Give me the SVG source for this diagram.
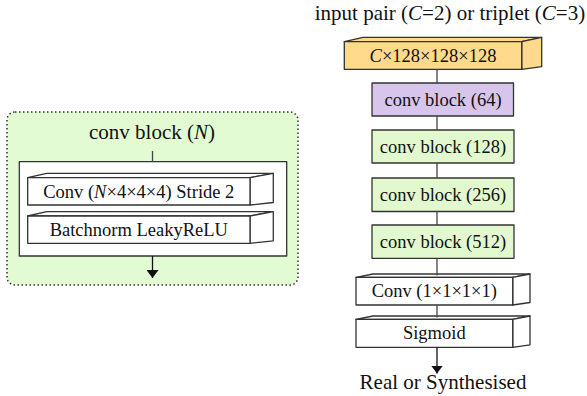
<svg xmlns="http://www.w3.org/2000/svg" width="587" height="396" viewBox="0 0 587 396">
  <defs>
    <style>
      text { font-family: "Liberation Serif", "Times New Roman", serif; fill: #111; text-anchor: middle; }
      .big { font-size: 21px; }
      .lbl { font-size: 18.5px; }
      .box { stroke: #333; stroke-width: 1.3; stroke-linejoin: round; }
      .orange { fill: #ffd98c; }
      .purple { fill: #d7c5eb; }
      .green { fill: #e2f9cf; }
      .white { fill: #ffffff; }
      .edge { stroke: #444; stroke-width: 1.3; fill: none; }
      .arrow { stroke: #111; stroke-width: 1.3; fill: none; }
      .dotted { fill: #e3fbd3; stroke: #333; stroke-width: 1.5; stroke-dasharray: 1.5 2.5; }
    </style>
    <marker id="ah" viewBox="0 0 8 12" refX="8" refY="6" markerWidth="8" markerHeight="12" markerUnits="userSpaceOnUse" orient="auto">
      <path d="M0,0 L8,6 L0,12 Z" fill="#111"/>
    </marker>
  </defs>

  <!-- Left detail: conv block (N) -->
  <g id="conv-block-detail">
    <rect class="dotted" x="7" y="112" width="291" height="173" rx="8"/>
    <text class="big" x="152" y="139">conv block (<tspan font-style="italic">N</tspan>)</text>
    <rect class="box white" x="19.3" y="161.7" width="267.4" height="94.3" stroke="#111" stroke-width="1.5"/>
  </g>
  <g id="conv-N">
    <polygon class="box white" points="27.7,177.7 46.7,173.3 273.3,173.3 250,177.7"/>
    <polygon class="box white" points="250,177.7 273.3,173.3 273.3,202.5 250,205"/>
    <rect class="box white" x="27.7" y="177.7" width="222.3" height="27.3"/>
    <text class="lbl" x="138.8" y="197.5">Conv (<tspan font-style="italic">N</tspan>×4×4×4) Stride 2</text>
  </g>
  <g id="batchnorm">
    <polygon class="box white" points="27.7,216 46.7,211.6 273.3,211.6 250,216"/>
    <polygon class="box white" points="250,216 273.3,211.6 273.3,240.8 250,243.3"/>
    <rect class="box white" x="27.7" y="216" width="222.3" height="27.3"/>
    <text class="lbl" x="138.8" y="235.8">Batchnorm LeakyReLU</text>
  </g>

  <!-- Right pipeline -->
  <g id="input-label">
    <text class="big" x="450" y="19.5">input pair (<tspan font-style="italic">C</tspan>=2) or triplet (<tspan font-style="italic">C</tspan>=3)</text>
  </g>
  <g id="input-volume">
    <polygon class="box orange" points="344.3,41.7 363,37.3 541.7,37.3 521.7,41.7"/>
    <polygon class="box orange" points="521.7,41.7 541.7,37.3 541.7,66.7 521.7,69.3"/>
    <rect class="box orange" x="344.3" y="41.7" width="177.4" height="27.6"/>
    <text class="lbl" x="433" y="61.8"><tspan font-style="italic">C</tspan>×128×128×128</text>
  </g>
  <g id="conv64">
    <rect class="box purple" x="372" y="83" width="141.5" height="33"/>
    <text class="lbl" x="443" y="106">conv block (64)</text>
  </g>
  <g id="conv128">
    <rect class="box green" x="372" y="130" width="142" height="33"/>
    <text class="lbl" x="443" y="152.5">conv block (128)</text>
  </g>
  <g id="conv256">
    <rect class="box green" x="372" y="178" width="142" height="33.5"/>
    <text class="lbl" x="443" y="200.5">conv block (256)</text>
  </g>
  <g id="conv512">
    <rect class="box green" x="372" y="225" width="142" height="33.3"/>
    <text class="lbl" x="443" y="247.5">conv block (512)</text>
  </g>
  <g id="conv1x1">
    <polygon class="box white" points="356,277.3 373,274 530,274 512.7,277.3"/>
    <polygon class="box white" points="512.7,277.3 530,274 530,302.5 512.7,305"/>
    <rect class="box white" x="356" y="277.3" width="156.7" height="27.7"/>
    <text class="lbl" x="434.3" y="297.3">Conv (1×1×1×1)</text>
  </g>
  <g id="sigmoid">
    <polygon class="box white" points="356,319.3 373,316 530,316 512.7,319.3"/>
    <polygon class="box white" points="512.7,319.3 530,316 530,344.8 512.7,347.3"/>
    <rect class="box white" x="356" y="319.3" width="156.7" height="28"/>
    <text class="lbl" x="434.3" y="339">Sigmoid</text>
  </g>
  <g id="output-label">
    <text class="big" x="443" y="389.3">Real or Synthesised</text>
  </g>

  <!-- Connectors -->
  <g id="connectors">
    <line class="edge" x1="152.5" y1="151" x2="152.5" y2="161.7"/>
    <line class="arrow" x1="152.5" y1="256" x2="152.5" y2="278" marker-end="url(#ah)"/>
    <line class="edge" x1="437" y1="69.3" x2="437" y2="83"/>
    <line class="edge" x1="437" y1="116" x2="437" y2="130"/>
    <line class="edge" x1="437" y1="163" x2="437" y2="178"/>
    <line class="edge" x1="437" y1="211.5" x2="437" y2="225"/>
    <line class="edge" x1="437" y1="258.3" x2="437" y2="275.5"/>
    <line class="edge" x1="437" y1="305" x2="437" y2="317.5"/>
    <line class="arrow" x1="437" y1="347.3" x2="437" y2="373.5" marker-end="url(#ah)"/>
  </g>
</svg>
